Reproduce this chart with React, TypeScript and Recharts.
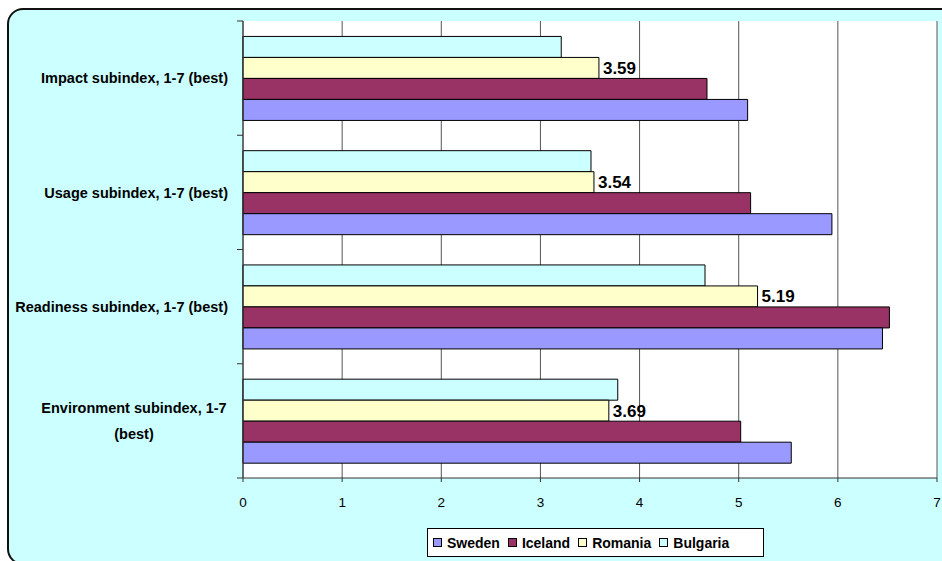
import { BarChart, Bar, XAxis, YAxis, CartesianGrid, LabelList } from 'recharts';

// categories, top to bottom
const categories = [
  'Impact subindex, 1-7 (best)',
  'Usage subindex, 1-7 (best)',
  'Readiness subindex, 1-7 (best)',
  'Environment subindex, 1-7 (best)',
];
const sweden = [5.09, 5.94, 6.45, 5.53];
const iceland = [4.68, 5.12, 6.52, 5.02];
const romania = [3.59, 3.54, 5.19, 3.69];
const bulgaria = [3.21, 3.51, 4.66, 3.78];
const xTicks = [0, 1, 2, 3, 4, 5, 6, 7];

const legendItems = [
  { name: 'Sweden', color: '#9999FF' },
  { name: 'Iceland', color: '#993366' },
  { name: 'Romania', color: '#FFFFCC' },
  { name: 'Bulgaria', color: '#CCFFFF' },
];

const data = categories.map((name, i) => ({
  name,
  sweden: sweden[i],
  iceland: iceland[i],
  romania: romania[i],
  bulgaria: bulgaria[i],
}));

const FONT = '"Liberation Sans", Arial, sans-serif';

function CategoryTick(props: any) {
  const { x, y, payload, index } = props;
  const half = payload.offset || 57;
  const label: string = payload.value;
  // long labels wrap before "(best)", centred like Excel does
  let lines = [label];
  if (label.length > 30) {
    const cut = label.lastIndexOf(' (');
    lines = [label.slice(0, cut), label.slice(cut + 1)];
  }
  return (
    <g>
      <line x1={x + 9} x2={x + 15} y1={y - half} y2={y - half} stroke="#333" />
      {index === categories.length - 1 && (
        <line x1={x + 9} x2={x + 15} y1={y + half} y2={y + half} stroke="#333" />
      )}
      {lines.length === 1 ? (
        <text x={x} y={y} dy="0.355em" textAnchor="end" fontSize={14.5} fontWeight="bold" fill="#000">
          {label}
        </text>
      ) : (
        lines.map((l, i) => (
          <text
            key={i}
            x={x - 94}
            y={y + (i - (lines.length - 1) / 2) * 26}
            dy="0.355em"
            textAnchor="middle"
            fontSize={14.5}
            fontWeight="bold"
            fill="#000"
          >
            {l}
          </text>
        ))
      )}
    </g>
  );
}

export default function App() {
  return (
    <div
      style={{
        position: 'absolute',
        left: 0,
        top: 0,
        width: 942,
        height: 561,
        overflow: 'hidden',
        fontFamily: FONT,
      }}
    >
      <div
        style={{
          position: 'absolute',
          left: 7,
          top: 8,
          width: 960,
          height: 553,
          background: '#CCFFFF',
          border: '2px solid #111',
          borderRadius: 16,
        }}
      />
      <div style={{ position: 'absolute', left: 0, top: 0 }}>
        <BarChart
          width={942}
          height={561}
          data={data}
          layout="vertical"
          margin={{ top: 21, right: 5, left: 0, bottom: 53 }}
          barCategoryGap="13.5%"
          barGap={0}
        >
          <CartesianGrid horizontal={false} stroke="#555" fill="#fff" fillOpacity={1} />
          <XAxis
            type="number"
            domain={[0, 7]}
            ticks={xTicks}
            height={30}
            stroke="#333"
            tickSize={4}
            tickMargin={15}
            tick={{ fontSize: 13.5, fill: '#000' }}
          />
          <YAxis
            dataKey="name"
            type="category"
            width={243}
            stroke="#333"
            tickLine={false}
            tickSize={6}
            tickMargin={9}
            tick={<CategoryTick />}
            interval={0}
          />
          <Bar dataKey="bulgaria" fill="#CCFFFF" stroke="#000" strokeWidth={1} isAnimationActive={false} />
          <Bar dataKey="romania" fill="#FFFFCC" stroke="#000" strokeWidth={1} isAnimationActive={false}>
            <LabelList
              dataKey="romania"
              position="right"
              offset={4}
              fill="#000"
              fontSize={17}
              fontWeight="bold"
              formatter={(v: any) => Number(v).toFixed(2)}
            />
          </Bar>
          <Bar dataKey="iceland" fill="#993366" stroke="#000" strokeWidth={1} isAnimationActive={false} />
          <Bar dataKey="sweden" fill="#9999FF" stroke="#000" strokeWidth={1} isAnimationActive={false} />
        </BarChart>
      </div>
      <div
        style={{
          position: 'absolute',
          left: 427,
          top: 528,
          width: 337,
          height: 29,
          background: '#fff',
          border: '1px solid #000',
          display: 'flex',
          alignItems: 'center',
          paddingLeft: 5,
          boxSizing: 'border-box',
          fontSize: 14,
          fontWeight: 'bold',
        }}
      >
        {legendItems.map((it) => (
          <span key={it.name} style={{ display: 'flex', alignItems: 'center', marginRight: 8 }}>
            <span
              style={{
                display: 'inline-block',
                width: 7,
                height: 7,
                background: it.color,
                border: '1px solid #000',
                marginRight: 5,
              }}
            />
            {it.name}
          </span>
        ))}
      </div>
    </div>
  );
}
